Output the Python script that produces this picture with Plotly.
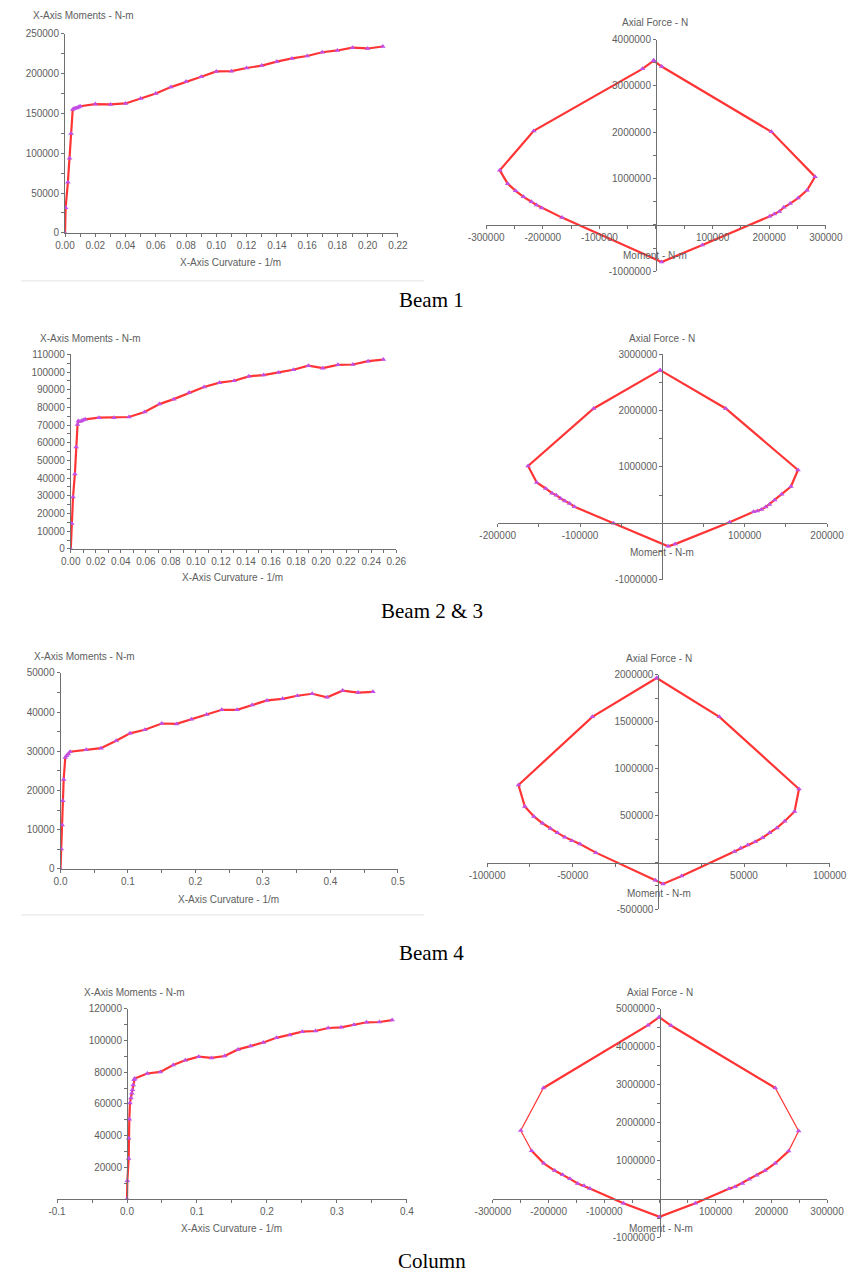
import plotly.graph_objects as go

W, H = 862, 1281

# ---------------- data ----------------
# Beam 1 : moment-curvature
B1_CURV = [0.0, 0.0004, 0.0019, 0.003, 0.004, 0.0051, 0.006, 0.007, 0.008, 0.009, 0.010,
           0.02, 0.03, 0.04, 0.05, 0.06, 0.07, 0.08, 0.09, 0.10, 0.11,
           0.12, 0.13, 0.14, 0.15, 0.16, 0.17, 0.18, 0.19, 0.20, 0.21]
B1_MOM = [0, 31500, 63400, 93700, 124800, 155000, 156000, 156500, 157000, 158000, 159000,
          161700, 161300, 162500, 168700, 175000, 183000, 190000, 196000, 202700, 203000,
          207000, 210000, 215000, 219000, 222000, 226800, 229000, 232500, 231500, 234000]
# Beam 1 : interaction (moment, axial force)
B1_PM_M = [-4000, 10000, 204000, 281000, 267000, 251000, 237000, 226000, 218000, 209000, 201000,
           82000, 10000, -166000, -202000, -211000, -220000, -234000, -248000, -262000, -276000,
           -216000, -24000, -4000]
B1_PM_P = [3550000, 3420000, 2010000, 1040000, 750000, 580000, 460000, 380000, 290000, 235000, 185000,
           -435000, -800000, 157000, 364000, 430000, 500000, 606000, 735000, 890000, 1180000,
           2030000, 3370000, 3550000]

# Beam 2 & 3
B23_CURV = [0, 0.0008, 0.0018, 0.0033, 0.0043, 0.0054, 0.006, 0.0074, 0.0087, 0.010, 0.0115,
            0.0225, 0.0345, 0.0465, 0.059, 0.0708, 0.0823, 0.0945, 0.1065, 0.1188, 0.1305,
            0.1423, 0.154, 0.166, 0.1778, 0.1898, 0.2013, 0.2133, 0.2253, 0.2375, 0.2496]
B23_MOM = [0, 14400, 29300, 42400, 57600, 70300, 72300, 72000, 72500, 72900, 73300,
           74200, 74200, 74600, 77400, 81900, 84700, 88400, 91600, 94000, 95100,
           97600, 98300, 99800, 101300, 103600, 102200, 104100, 104300, 106200, 107100]
B23_PM_M = [-2700, 76900, 164700, 156100, 144900, 136300, 130100, 125400, 120400, 115300, 110700,
            81600, 15500, 7000, -59400, -106800, -112600, -118400, -123500, -128900, -134000,
            -141700, -152600, -163100, -83500, -2700]
B23_PM_P = [2720000, 2040000, 947000, 653000, 518000, 412000, 335000, 288000, 247000, 218000, 206000,
            18000, -370000, -410000, 0, 294000, 353000, 394000, 441000, 500000, 535000,
            618000, 724000, 1018000, 2040000, 2720000]

# Beam 4
B4_CURV = [0, 0.001, 0.0024, 0.0033, 0.0047, 0.0071, 0.009, 0.0114, 0.0142,
           0.038, 0.060, 0.0825, 0.103, 0.125, 0.150, 0.172, 0.194, 0.2166, 0.239,
           0.2616, 0.284, 0.306, 0.329, 0.351, 0.373, 0.395, 0.418, 0.441, 0.463]
B4_MOM = [0, 5060, 11200, 17400, 22800, 28400, 28900, 29300, 29900,
          30400, 30800, 32700, 34600, 35500, 37100, 37000, 38200, 39400, 40600,
          40600, 41800, 43000, 43400, 44200, 44700, 43800, 45500, 45000, 45200]
B4_PM_M = [-1000, 35600, 82100, 79500, 73700, 69200, 64900, 60800, 56500, 52200, 48100, 44400,
           13600, 2700, -1800, -36500, -45800, -50500, -54600, -58900, -63000, -67700, -72700,
           -78000, -81700, -38600, -1000]
B4_PM_P = [1965000, 1551000, 782000, 544000, 439000, 368000, 316000, 263000, 221000, 186000, 154000, 116000,
           -144000, -228000, -189000, 105000, 196000, 232000, 270000, 316000, 361000, 418000, 491000,
           596000, 825000, 1551000, 1965000]

# Column
COL_CURV = [0, 0.0005, 0.0024, 0.0024, 0.0033, 0.0042, 0.0056, 0.0069, 0.0078, 0.0088, 0.0101, 0.011,
            0.0289, 0.0476, 0.066, 0.0833, 0.1025, 0.1208, 0.1396, 0.1588, 0.1766, 0.1949,
            0.2136, 0.2328, 0.2506, 0.2694, 0.2876, 0.306, 0.3243, 0.3425, 0.3608, 0.379]
COL_MOM = [0, 11500, 25600, 38300, 50400, 60600, 63800, 66700, 69000, 71900, 75200, 76000,
           79200, 80200, 84600, 87500, 89800, 89000, 90200, 94400, 96500, 98800,
           101700, 103500, 105600, 106000, 107900, 108300, 110000, 111500, 111700, 112900]
COL_PM_M = [-1400, 19800, 207000, 249000, 231000, 207000, 188600, 173700, 160000, 147900, 134700, 123800,
            63500, -900, -65700, -126000, -136300, -147800, -161600, -174800, -189200, -208700,
            -230500, -250000, -209300, -21500, -1400]
COL_PM_P = [4780000, 4560000, 2920000, 1790000, 1260000, 940000, 748000, 626000, 522000, 409000, 322000, 270000,
            -113000, -470000, -113000, 278000, 348000, 409000, 530000, 635000, 748000, 939000,
            1270000, 1800000, 2920000, 4570000, 4780000]

# tick values (labelled)
P1_XT = [0.00, 0.02, 0.04, 0.06, 0.08, 0.10, 0.12, 0.14, 0.16, 0.18, 0.20, 0.22]
P1_YT = [0, 50000, 100000, 150000, 200000, 250000]
P2_XT = [-300000, -200000, -100000, 100000, 200000, 300000]
P2_YT = [-1000000, 1000000, 2000000, 3000000, 4000000]
P3_XT = [0.00, 0.02, 0.04, 0.06, 0.08, 0.10, 0.12, 0.14, 0.16, 0.18, 0.20, 0.22, 0.24, 0.26]
P3_YT = [0, 10000, 20000, 30000, 40000, 50000, 60000, 70000, 80000, 90000, 100000, 110000]
P4_XT = [-200000, -100000, 100000, 200000]
P4_YT = [-1000000, 1000000, 2000000, 3000000]
P5_XT = [0.0, 0.1, 0.2, 0.3, 0.4, 0.5]
P5_YT = [0, 10000, 20000, 30000, 40000, 50000]
P6_XT = [-100000, -50000, 50000, 100000]
P6_YT = [-500000, 500000, 1000000, 1500000, 2000000]
P7_XT = [-0.1, 0.0, 0.1, 0.2, 0.3, 0.4]
P7_YT = [20000, 40000, 60000, 80000, 100000, 120000]
P8_XT = [-300000, -200000, -100000, 100000, 200000, 300000]
P8_YT = [-1000000, 1000000, 2000000, 3000000, 4000000, 5000000]

CAPTIONS = ["Beam 1", "Beam 2 & 3", "Beam 4", "Column"]
MC_XTITLE = "X-Axis Curvature - 1/m"
MC_YTITLE = "X-Axis Moments - N-m"
PM_XTITLE = "Moment - N-m"
PM_YTITLE = "Axial Force - N"

# ---------------- styling ----------------
LINE_RED = "#ff3535"
MARK_COL = "#c24fe6"
AX_COL = "#707070"
TXT_COL = "#5e5e5e"
FONT = "Liberation Sans, Arial, sans-serif"


def fx(px):
    return px / W


def fy(py):
    return 1 - py / H


def fmt(v, nd):
    if nd == 0:
        return str(int(v))
    return f"{v:.{nd}f}"


# panel layout: pixel domains and ranges
panels = [
    dict(x=B1_CURV, y=B1_MOM, xd=(49, 396), yd=(28, 229), xr=[0, 0.22], yr=[0, 250000],
         xt=P1_XT, yt=P1_YT, xnd=2, xmin=0.01, ymin=25000, kind="mc"),
    dict(x=B1_PM_M, y=B1_PM_P, xd=(488, 842), yd=(34, 267.7), xr=[-300000, 300000], yr=[-1000000, 4000000],
         xt=P2_XT, yt=P2_YT, xnd=0, xmin=50000, ymin=500000, kind="pm"),
    dict(x=B23_CURV, y=B23_MOM, xd=(55, 394.3), yd=(351.7, 548), xr=[0, 0.26], yr=[0, 110000],
         xt=P3_XT, yt=P3_YT, xnd=2, xmin=0.01, ymin=5000, kind="mc"),
    dict(x=B23_PM_M, y=B23_PM_P, xd=(500, 843.3), yd=(351.7, 579), xr=[-200000, 200000], yr=[-1000000, 3000000],
         xt=P4_XT, yt=P4_YT, xnd=0, xmin=50000, ymin=500000, kind="pm"),
    dict(x=B4_CURV, y=B4_MOM, xd=(44.3, 396), yd=(673.3, 871), xr=[0, 0.5], yr=[0, 50000],
         xt=P5_XT, yt=P5_YT, xnd=1, xmin=0.05, ymin=5000, kind="mc"),
    dict(x=B4_PM_M, y=B4_PM_P, xd=(489, 846), yd=(675, 912), xr=[-100000, 100000], yr=[-500000, 2000000],
         xt=P6_XT, yt=P6_YT, xnd=0, xmin=25000, ymin=250000, kind="pm"),
    dict(x=COL_CURV, y=COL_MOM, xd=(40.7, 405.3), yd=(1012.3, 1204.3), xr=[-0.1, 0.4], yr=[0, 120000],
         xt=P7_XT, yt=P7_YT, xnd=1, xmin=0.05, ymin=10000, kind="mc0"),
    dict(x=COL_PM_M, y=COL_PM_P, xd=(495, 843.3), yd=(1012.3, 1242.7), xr=[-300000, 300000], yr=[-1000000, 5000000],
         xt=P8_XT, yt=P8_YT, xnd=0, xmin=50000, ymin=500000, kind="pm"),
]

fig = go.Figure()
layout = {}

for i, p in enumerate(panels, start=1):
    xa = "x" if i == 1 else f"x{i}"
    ya = "y" if i == 1 else f"y{i}"
    xkey = "xaxis" if i == 1 else f"xaxis{i}"
    ykey = "yaxis" if i == 1 else f"yaxis{i}"

    xdom = [fx(p["xd"][0]), fx(p["xd"][1])]
    ydom = [fy(p["yd"][1]), fy(p["yd"][0])]

    if i == 8:
        # column interaction: a few segments drawn thinner
        fig.add_trace(go.Scatter(x=p["x"], y=p["y"], mode="lines", line=dict(color=LINE_RED, width=1.2),
                                 xaxis=xa, yaxis=ya, showlegend=False, hoverinfo="skip"))
        thick_x, thick_y = [], []
        for a, b in [(0, 3), (4, 23), (24, len(p["x"]))]:
            thick_x += p["x"][a:b] + [None]
            thick_y += p["y"][a:b] + [None]
        fig.add_trace(go.Scatter(x=thick_x, y=thick_y, mode="lines", line=dict(color=LINE_RED, width=2.2),
                                 xaxis=xa, yaxis=ya, showlegend=False, hoverinfo="skip", connectgaps=False))
        fig.add_trace(go.Scatter(x=p["x"], y=p["y"], mode="markers",
                                 marker=dict(symbol="triangle-up", size=5, color=MARK_COL),
                                 xaxis=xa, yaxis=ya, showlegend=False))
    else:
        fig.add_trace(go.Scatter(x=p["x"], y=p["y"], mode="lines+markers",
                                 line=dict(color=LINE_RED, width=2.2),
                                 marker=dict(symbol="triangle-up", size=5, color=MARK_COL),
                                 xaxis=xa, yaxis=ya, showlegend=False))

    common = dict(showgrid=False, zeroline=False, showline=True, linecolor=AX_COL, linewidth=1,
                  ticks="outside", ticklen=3, tickwidth=1, tickcolor=AX_COL,
                  tickfont=dict(family=FONT, size=10, color=TXT_COL), fixedrange=True)

    xaxis = dict(common, domain=xdom, range=p["xr"], tickmode="array", tickvals=p["xt"],
                 ticktext=[fmt(v, p["xnd"]) for v in p["xt"]],
                 minor=dict(dtick=p["xmin"], tick0=0, ticks="outside", ticklen=3, tickcolor=AX_COL))
    yaxis = dict(common, domain=ydom, range=p["yr"], tickmode="array", tickvals=p["yt"],
                 ticktext=[fmt(v, 0) for v in p["yt"]],
                 minor=dict(dtick=p["ymin"], tick0=0, ticks="outside", ticklen=3, tickcolor=AX_COL))

    if p["kind"] == "pm":
        # axes cross at the origin
        y0frac = (0 - p["yr"][0]) / (p["yr"][1] - p["yr"][0])
        x0frac = (0 - p["xr"][0]) / (p["xr"][1] - p["xr"][0])
        xaxis.update(anchor="free", position=ydom[0] + y0frac * (ydom[1] - ydom[0]))
        yaxis.update(anchor="free", position=xdom[0] + x0frac * (xdom[1] - xdom[0]))
    elif p["kind"] == "mc0":
        x0frac = (0 - p["xr"][0]) / (p["xr"][1] - p["xr"][0])
        xaxis.update(anchor=ya)
        yaxis.update(anchor="free", position=xdom[0] + x0frac * (xdom[1] - xdom[0]))
    else:
        xaxis.update(anchor=ya)
        yaxis.update(anchor=xa)

    layout[xkey] = xaxis
    layout[ykey] = yaxis

# axis titles as annotations (pixel positions)
ann = []


def add_text(text, px, py, size=10, color=TXT_COL, family=FONT, xanchor="center"):
    ann.append(dict(text=text, x=fx(px), y=fy(py), xref="paper", yref="paper", showarrow=False,
                    xanchor=xanchor, yanchor="middle", font=dict(size=size, color=color, family=family)))


# left (moment-curvature) titles
add_text(MC_YTITLE, 14, 10, xanchor="left")
add_text(MC_XTITLE, 222, 259)
add_text(MC_YTITLE, 21, 336, xanchor="left")
add_text(MC_XTITLE, 224, 577)
add_text(MC_YTITLE, 15, 657, xanchor="left")
add_text(MC_XTITLE, 219, 902)
add_text(MC_YTITLE, 67, 996, xanchor="left")
add_text(MC_XTITLE, 223, 1234)
# right (interaction) titles
add_text(PM_YTITLE, 664, 17)
add_text(PM_XTITLE, 664, 252)
add_text(PM_YTITLE, 671, 336)
add_text(PM_XTITLE, 671, 552)
add_text(PM_YTITLE, 668, 659)
add_text(PM_XTITLE, 668, 896)
add_text(PM_YTITLE, 669, 996)
add_text(PM_XTITLE, 670, 1234)

# captions
SERIF = "Liberation Serif, Times New Roman, serif"
for cap, py in zip(CAPTIONS, [297, 611, 956, 1267]):
    add_text(cap, 431, py, size=21, color="#000000", family=SERIF)

shapes = [
    dict(type="line", xref="paper", yref="paper", x0=fx(3), x1=fx(423), y0=fy(277.5), y1=fy(277.5),
         line=dict(color="#e4e4e4", width=1)),
    dict(type="line", xref="paper", yref="paper", x0=fx(3), x1=fx(423), y0=fy(917.5), y1=fy(917.5),
         line=dict(color="#e4e4e4", width=1)),
]

fig.update_layout(width=W, height=H, margin=dict(l=0, r=0, t=0, b=0),
                  paper_bgcolor="white", plot_bgcolor="white",
                  annotations=ann, shapes=shapes, showlegend=False, **layout)

fig.write_html("out.html", config=dict(displayModeBar=False))
